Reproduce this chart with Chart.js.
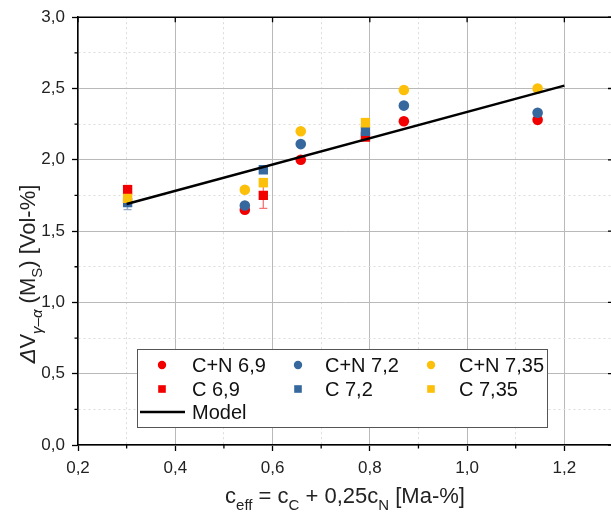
<!DOCTYPE html>
<html>
<head>
<meta charset="utf-8">
<script src="https://cdn.jsdelivr.net/npm/chart.js@4/dist/chart.umd.min.js"></script>
<style>
  html, body { margin: 0; padding: 0; background: #fff; overflow: hidden; }
  #wrap { width: 620px; height: 517px; }
</style>
</head>
<body>
<div id="wrap"><canvas id="chart" width="620" height="517"></canvas></div>
<script>
// C+N samples (circles)
const xCN = [0.543, 0.658, 0.870, 1.145];
const yCN69 = [1.65, 2.00, 2.27, 2.28];
const yCN72 = [1.68, 2.11, 2.38, 2.33];
const yCN735 = [1.79, 2.20, 2.49, 2.50];

// C samples (squares) with error bars
const xC = [0.302, 0.581, 0.791];
const yC69 = [1.79, 1.75, 2.16];
const errC69 = [0.03, 0.09, 0.02];
const yC72 = [1.70, 1.93, 2.20];
const errC72 = [0.05, 0.02, 0.02];
const yC735 = [1.73, 1.84, 2.26];
const errC735 = [0.03, 0.03, 0.03];

// model line
const modelX = [0.3, 1.2];
const modelY = [1.69, 2.52];

const RED = "#f20000";
const BLUE = "#36689e";
const YELLOW = "#fcbf0a";
const FONT = "Arial, 'Liberation Sans', sans-serif";

const pts = (xs, ys) => xs.map((x, i) => ({ x, y: ys[i] }));
const isMajorX = v => Math.round(v * 10) % 2 === 0;
const isMajorY = v => Math.round(v * 4) % 2 === 0;
const fmt = v => v.toFixed(1).replace(".", ",");

function circleSet(label, ys, color, order) {
  return {
    label, data: pts(xCN, ys), order,
    pointStyle: "circle", pointRadius: 5.3,
    backgroundColor: color, borderColor: color, borderWidth: 0
  };
}
function squareSet(label, ys, errs, color, order) {
  return {
    label, data: pts(xC, ys), errors: errs, order,
    pointStyle: "rect", pointRadius: 6.6,
    backgroundColor: color, borderColor: color, borderWidth: 0
  };
}

const datasets = [
  circleSet("C+N 6,9", yCN69, RED, 3),
  circleSet("C+N 7,2", yCN72, BLUE, 2),
  circleSet("C+N 7,35", yCN735, YELLOW, 1),
  squareSet("C 6,9", yC69, errC69, RED, 3),
  squareSet("C 7,2", yC72, errC72, BLUE, 2),
  squareSet("C 7,35", yC735, errC735, YELLOW, 1),
  {
    label: "Model", type: "line", data: pts(modelX, modelY), order: 0,
    borderColor: "#000", borderWidth: 2.5, pointRadius: 0, showLine: true, fill: false
  }
];

function drawRich(ctx, parts, cx, cy, size) {
  const subSize = Math.round(size * 0.68);
  let w = 0;
  parts.forEach(p => {
    ctx.font = (p.italic ? "italic " : "") + (p.sub ? subSize : size) + "px " + FONT;
    p.w = ctx.measureText(p.t).width;
    w += p.w;
  });
  let x = cx - w / 2;
  ctx.textBaseline = "alphabetic";
  ctx.textAlign = "left";
  parts.forEach(p => {
    ctx.font = (p.italic ? "italic " : "") + (p.sub ? subSize : size) + "px " + FONT;
    ctx.fillText(p.t, x, cy + (p.sub ? size * 0.3 : 0));
    x += p.w;
  });
}

const extras = {
  id: "extras",
  beforeDatasetsDraw(chart) {
    const ctx = chart.ctx;
    const ys = chart.scales.y;
    chart.data.datasets.forEach((ds, i) => {
      if (!ds.errors) return;
      const meta = chart.getDatasetMeta(i);
      ctx.save();
      ctx.strokeStyle = ds.borderColor;
      ctx.globalAlpha = 0.55;
      ctx.lineWidth = 1.3;
      ds.data.forEach((d, j) => {
        const px = meta.data[j].x;
        const top = ys.getPixelForValue(d.y + ds.errors[j]);
        const bot = ys.getPixelForValue(d.y - ds.errors[j]);
        ctx.beginPath();
        ctx.moveTo(px, top); ctx.lineTo(px, bot);
        ctx.moveTo(px - 4, top); ctx.lineTo(px + 4, top);
        ctx.moveTo(px - 4, bot); ctx.lineTo(px + 4, bot);
        ctx.stroke();
      });
      ctx.restore();
    });
  },
  afterDraw(chart) {
    const ctx = chart.ctx;
    const a = chart.chartArea;
    const xs = chart.scales.x, ys = chart.scales.y;
    ctx.save();
    // frame top / right
    ctx.strokeStyle = "#000";
    ctx.lineWidth = 1.5;
    ctx.beginPath();
    ctx.moveTo(a.left, a.top); ctx.lineTo(a.right, a.top);
    ctx.moveTo(a.right, a.top); ctx.lineTo(a.right, a.bottom);
    ctx.stroke();
    // inward major ticks top/right, short minor ticks left/bottom
    ctx.lineWidth = 1.3;
    ctx.beginPath();
    xs.ticks.forEach(t => {
      const px = xs.getPixelForValue(t.value);
      if (isMajorX(t.value)) {
        ctx.moveTo(px, a.top); ctx.lineTo(px, a.top + 5);
      } else {
        ctx.moveTo(px, a.bottom); ctx.lineTo(px, a.bottom + 3.5);
      }
    });
    ys.ticks.forEach(t => {
      const py = ys.getPixelForValue(t.value);
      if (isMajorY(t.value)) {
        ctx.moveTo(a.right, py); ctx.lineTo(a.right - 5, py);
      } else {
        ctx.moveTo(a.left, py); ctx.lineTo(a.left - 3.5, py);
      }
    });
    ctx.stroke();

    // axis titles
    ctx.fillStyle = "#222";
    drawRich(ctx, [
      { t: "c" }, { t: "eff", sub: true }, { t: " = c" }, { t: "C", sub: true },
      { t: " + 0,25c" }, { t: "N", sub: true }, { t: " [Ma-%]" }
    ], 345, 503, 22);
    ctx.save();
    ctx.translate(27, 274);
    ctx.rotate(-Math.PI / 2);
    drawRich(ctx, [
      { t: "Δ", italic: true }, { t: "V" }, { t: "γ–α", sub: true, italic: true },
      { t: " (M" }, { t: "S", sub: true }, { t: ") [Vol-%]" }
    ], 0, 8, 22);
    ctx.restore();

    // legend
    const box = { l: 137, t: 349, r: 547, b: 427 };
    ctx.fillStyle = "#fff";
    ctx.fillRect(box.l, box.t, box.r - box.l, box.b - box.t);
    ctx.strokeStyle = "#555";
    ctx.lineWidth = 1;
    ctx.strokeRect(box.l + 0.5, box.t + 0.5, box.r - box.l, box.b - box.t);
    const colX = [162, 298, 431];
    const textX = [192, 325, 459];
    const rowY = [365, 389, 412];
    ctx.font = "20px " + FONT;
    ctx.textBaseline = "middle";
    ctx.textAlign = "left";
    chart.data.datasets.forEach((ds, i) => {
      if (i < 6) {
        const col = i % 3, row = Math.floor(i / 3);
        ctx.fillStyle = ds.backgroundColor;
        if (ds.pointStyle === "circle") {
          ctx.beginPath();
          ctx.arc(colX[col], rowY[row], 4.2, 0, Math.PI * 2);
          ctx.fill();
        } else {
          ctx.fillRect(colX[col] - 3.8, rowY[row] - 3.8, 7.6, 7.6);
        }
        ctx.fillStyle = "#111";
        ctx.fillText(ds.label, textX[col], rowY[row] + 1);
      } else {
        ctx.strokeStyle = "#000";
        ctx.lineWidth = 2.5;
        ctx.beginPath();
        ctx.moveTo(140, rowY[2]); ctx.lineTo(185, rowY[2]);
        ctx.stroke();
        ctx.fillStyle = "#111";
        ctx.fillText(ds.label, 192, rowY[2] + 1);
      }
    });
    ctx.restore();
  }
};

new Chart(document.getElementById("chart").getContext("2d"), {
  type: "scatter",
  data: { datasets },
  plugins: [extras],
  options: {
    responsive: false,
    animation: false,
    devicePixelRatio: 1,
    layout: { padding: { top: 15, right: 7, left: 0, bottom: 0 } },
    plugins: { legend: { display: false }, tooltip: { enabled: false } },
    scales: {
      x: {
        type: "linear", min: 0.2, max: 1.3,
        afterFit: s => { s.height = 72; },
        ticks: {
          stepSize: 0.1, autoSkip: false, maxRotation: 0, padding: 7,
          color: "#222", font: { family: FONT, size: 17 },
          callback: v => isMajorX(v) ? fmt(v) : ""
        },
        grid: {
          color: c => c.tick && isMajorX(c.tick.value) ? "#b9b9b9" : "#dcdcdc",
          tickColor: c => c.tick && isMajorX(c.tick.value) ? "#000" : "rgba(0,0,0,0)",
          tickLength: 6, tickWidth: 1.3, lineWidth: 1
        },
        border: {
          color: "#000", width: 1.5,
          dash: c => c.tick && !isMajorX(c.tick.value) ? [2, 3] : []
        }
      },
      y: {
        type: "linear", min: 0, max: 3,
        afterFit: s => { s.width = 78; },
        ticks: {
          stepSize: 0.25, autoSkip: false, padding: 7,
          color: "#222", font: { family: FONT, size: 17 },
          callback: v => isMajorY(v) ? fmt(v) : ""
        },
        grid: {
          color: c => c.tick && isMajorY(c.tick.value) ? "#b9b9b9" : "#dcdcdc",
          tickColor: c => c.tick && isMajorY(c.tick.value) ? "#000" : "rgba(0,0,0,0)",
          tickLength: 6, tickWidth: 1.3, lineWidth: 1
        },
        border: {
          color: "#000", width: 1.5,
          dash: c => c.tick && !isMajorY(c.tick.value) ? [2, 3] : []
        }
      }
    }
  }
});
</script>
</body>
</html>
